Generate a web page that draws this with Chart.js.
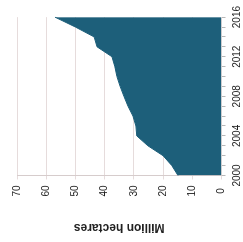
<!DOCTYPE html>
<html>
<head>
<meta charset="utf-8">
<script src="https://cdn.jsdelivr.net/npm/chart.js@4"></script>
<style>
  html, body { margin: 0; padding: 0; background: #fff; overflow: hidden; }
  body { width: 243px; height: 242px; position: relative; }
  #wrap {
    position: absolute; left: 0; top: 0;
    width: 242px; height: 243px;
    transform-origin: 0 0;
    transform: translate(0px, 242px) rotate(-90deg);
  }
</style>
</head>
<body>
<div id="wrap"><canvas id="c"></canvas></div>
<script>
const years = ['2000','2001','2002','2003','2004','2005','2006','2007','2008','2009','2010','2011','2012','2013','2014','2015','2016'];
const hectares = [14.9, 17, 20, 25.2, 29, 29.3, 30.3, 32, 33.4, 34.7, 35.8, 36.5, 37.5, 42.6, 43.6, 50, 57];
const yTicks = [0, 10, 20, 30, 40, 50, 60, 70];
const yTitle = 'Million hectares';

new Chart(document.getElementById('c'), {
  type: 'line',
  data: {
    labels: years,
    datasets: [{
      data: hectares,
      fill: 'origin',
      backgroundColor: '#1d5f7a',
      borderColor: '#1d5f7a',
      borderWidth: 1,
      pointRadius: 0,
      tension: 0
    }]
  },
  options: {
    responsive: true,
    maintainAspectRatio: false,
    animation: false,
    devicePixelRatio: 1,
    layout: { padding: { top: 17, right: 14, left: 0, bottom: -6.5 } },
    plugins: { legend: { display: false }, tooltip: { enabled: false } },
    scales: {
      x: {
        type: 'category',
        offset: false,
        grid: { drawOnChartArea: false, drawTicks: true, tickLength: 4, color: '#b8b8b8' },
        border: { display: false },
        ticks: {
          autoSkip: false, maxRotation: 0, minRotation: 0, padding: 6,
          color: '#222', font: { family: 'Liberation Sans', size: 10 },
          callback: function(v, i) { const y = years[i]; return (parseInt(y) % 4 === 0) ? y : ''; }
        }
      },
      y: {
        min: 0, max: 70,
        afterBuildTicks: function(axis) { axis.ticks = yTicks.map(v => ({ value: v })); },
        grid: { color: '#e6dcdc', tickLength: 4, lineWidth: 1 },
        border: { display: true, color: '#d6cccc' },
        ticks: {
          padding: 6, crossAlign: 'center',
          color: '#222', font: { family: 'Liberation Sans', size: 10 }
        },
        title: {
          display: true, text: yTitle, color: '#222',
          font: { family: 'Liberation Sans', size: 12, weight: 'bold' },
          padding: { top: 7, bottom: 18 }
        }
      }
    }
  }
});
</script>
</body>
</html>
